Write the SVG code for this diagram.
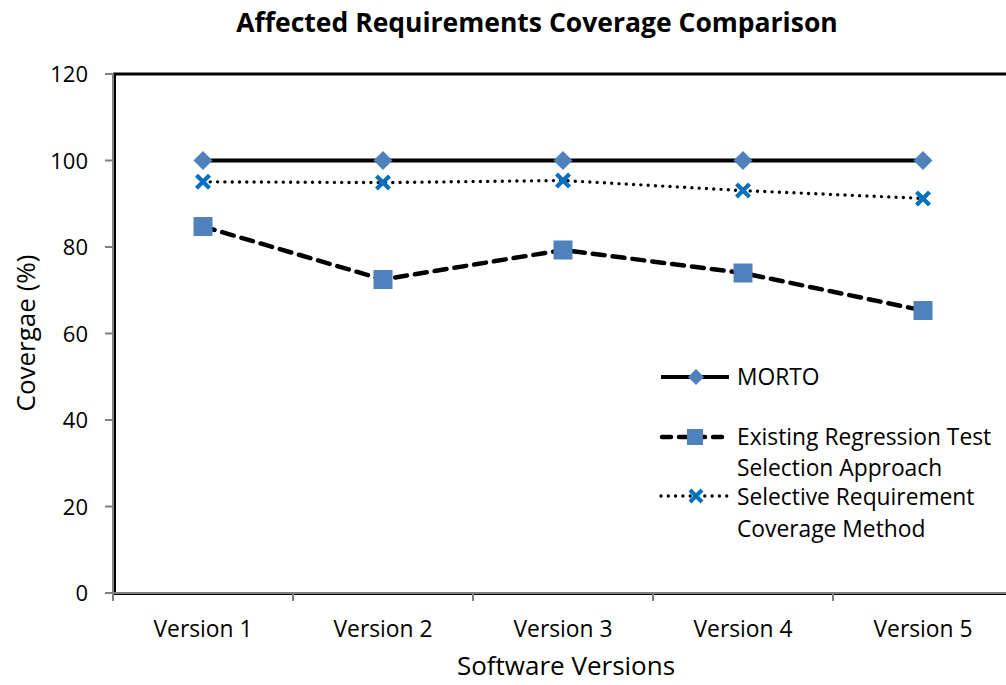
<svg xmlns="http://www.w3.org/2000/svg" width="1006" height="685" viewBox="0 0 1006 685">
  <style>
    text { font-family: "Open Sans", "Liberation Sans", sans-serif; fill: #000; }
    .title { font-size: 26.5px; font-weight: bold; }
    .tick { font-size: 22px; }
    .cat { font-size: 22.8px; }
    .axt { font-size: 26px; }
    .leg { font-size: 22.8px; }
    .grid { stroke: #808080; stroke-width: 2; fill: none; }
    .morto { stroke: #000; stroke-width: 4; fill: none; }
    .exist { stroke: #000; stroke-width: 4.5; fill: none; stroke-dasharray: 12 8; stroke-linecap: round; }
    .selec { stroke: #000; stroke-width: 3.4; fill: none; stroke-dasharray: 0 7.3; stroke-linecap: round; }
    .mk { fill: #4F81BD; }
    .xm { stroke: #0070C0; stroke-width: 4.2; fill: none; }
  </style>
  <defs>
    <path id="dia" d="M0,-9.5 L9.5,0 L0,9.5 L-9.5,0 Z" class="mk"/>
    <rect id="sq" x="-9.5" y="-9.5" width="19" height="19" class="mk"/>
    <path id="xx" d="M-6.5,-6.5 L6.5,6.5 M-6.5,6.5 L6.5,-6.5" class="xm"/>
  </defs>

  <rect width="1006" height="685" fill="#fff"/>

  <text class="title" x="537" y="32" text-anchor="middle">Affected Requirements Coverage Comparison</text>

  <!-- plot area frame -->
  <g id="frame">
    <line x1="113" y1="74" x2="1006" y2="74" stroke="#000" stroke-width="3"/>
    <line x1="115" y1="74" x2="115" y2="593" stroke="#000" stroke-width="2"/>
    <line x1="113" y1="594" x2="1006" y2="594" stroke="#000" stroke-width="2"/>
  </g>

  <!-- axes -->
  <g id="axes" class="grid">
    <line x1="113" y1="73" x2="113" y2="601"/>
    <line x1="105" y1="593" x2="1006" y2="593"/>
    <path d="M105,74H113 M105,160.5H113 M105,247H113 M105,333.5H113 M105,420H113 M105,506.5H113"/>
    <path d="M293,593V601 M473,593V601 M653,593V601 M833,593V601"/>
  </g>

  <g id="y-labels" class="tick" text-anchor="end">
    <text x="88" y="82">120</text>
    <text x="88" y="168.5">100</text>
    <text x="88" y="255">80</text>
    <text x="88" y="341.5">60</text>
    <text x="88" y="428">40</text>
    <text x="88" y="514.5">20</text>
    <text x="88" y="601">0</text>
  </g>

  <g id="x-labels" class="cat" text-anchor="middle">
    <text x="203" y="637">Version 1</text>
    <text x="383" y="637">Version 2</text>
    <text x="563" y="637">Version 3</text>
    <text x="743" y="637">Version 4</text>
    <text x="923" y="637">Version 5</text>
  </g>

  <text class="axt" x="566" y="675" text-anchor="middle">Software Versions</text>
  <text class="axt" transform="translate(35,333) rotate(-90)" text-anchor="middle">Covergae (%)</text>

  <!-- data series -->
  <g id="connectors">
    <polyline class="morto" points="203,160.5 383,160.5 563,160.5 743,160.5 923,160.5"/>
    <polyline class="selec" points="203,181.8 383,182.6 563,180.5 743,190.6 923,198.4"/>
    <polyline class="exist" points="203,226.5 383,279.5 563,250 743,273 923,310.5"/>
  </g>

  <g id="series-morto">
    <use href="#dia" x="203" y="160.5"/>
    <use href="#dia" x="383" y="160.5"/>
    <use href="#dia" x="563" y="160.5"/>
    <use href="#dia" x="743" y="160.5"/>
    <use href="#dia" x="923" y="160.5"/>
  </g>
  <g id="series-selective">
    <use href="#xx" x="203" y="181.8"/>
    <use href="#xx" x="383" y="182.6"/>
    <use href="#xx" x="563" y="180.5"/>
    <use href="#xx" x="743" y="190.6"/>
    <use href="#xx" x="923" y="198.4"/>
  </g>
  <g id="series-existing">
    <use href="#sq" x="203" y="226.5"/>
    <use href="#sq" x="383" y="279.5"/>
    <use href="#sq" x="563" y="250"/>
    <use href="#sq" x="743" y="273"/>
    <use href="#sq" x="923" y="310.5"/>
  </g>

  <!-- legend -->
  <g id="legend">
    <line class="morto" x1="661" y1="377" x2="729" y2="377"/>
    <path d="M0,-8 L8,0 L0,8 L-8,0 Z" class="mk" transform="translate(696,377)"/>
    <text class="leg" x="737" y="385">MORTO</text>

    <line class="exist" x1="662" y1="437" x2="730" y2="437" style="stroke-dasharray: 9 8"/>
    <rect x="687" y="429" width="16" height="16" class="mk"/>
    <text class="leg" x="737" y="445">Existing Regression Test</text>
    <text class="leg" x="737" y="476">Selection Approach</text>

    <line class="selec" x1="661" y1="496" x2="728" y2="496"/>
    <path d="M-6,-6 L6,6 M-6,6 L6,-6" class="xm" transform="translate(696,496)"/>
    <text class="leg" x="737" y="505">Selective Requirement</text>
    <text class="leg" x="737" y="537">Coverage Method</text>
  </g>
</svg>
